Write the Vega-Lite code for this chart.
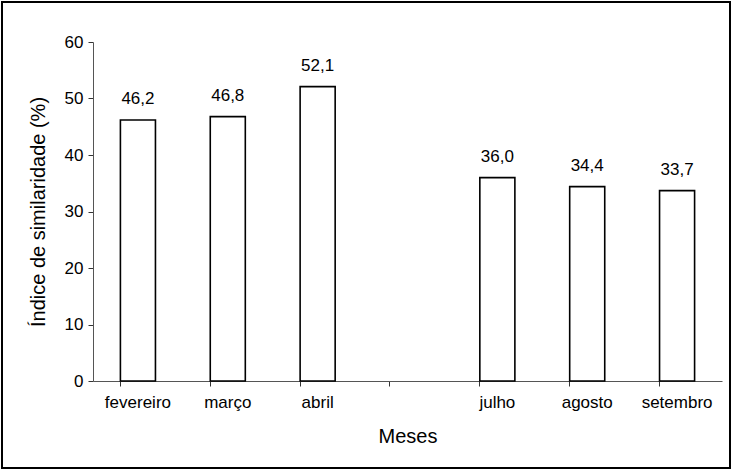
{
  "$schema": "https://vega.github.io/schema/vega-lite/v6.json",
  "width": 728,
  "height": 466,
  "padding": 2,
  "autosize": {"type": "none"},
  "background": "white",
  "config": {
    "view": {"stroke": "black", "strokeWidth": 2},
    "font": "Liberation Sans",
    "locale": {"number": {"decimal": ",", "thousands": ".", "grouping": [3], "currency": ["R$", ""]}},
    "axis": {"labelFont": "Liberation Sans", "titleFont": "Liberation Sans", "labelColor": "black", "titleColor": "black", "titleFontWeight": "normal", "grid": false}
  },
  "data": {"values": [
    {"mes": "fevereiro", "valor": 46.2},
    {"mes": "março", "valor": 46.8},
    {"mes": "abril", "valor": 52.1},
    {"mes": " ", "valor": null},
    {"mes": "julho", "valor": 36.0},
    {"mes": "agosto", "valor": 34.4},
    {"mes": "setembro", "valor": 33.7}
  ]},
  "encoding": {
    "x": {
      "field": "mes", "type": "nominal",
      "scale": {"domain": ["fevereiro", "março", "abril", " ", "julho", "agosto", "setembro"], "range": [91, 720], "paddingInner": 0.61, "paddingOuter": 0.305},
      "axis": {"title": "Meses", "titleFontSize": 20, "titlePadding": 16, "labelFontSize": 17, "labelAngle": 0, "labelPadding": 8, "tickSize": 5, "tickColor": "#333", "domainColor": "#555", "bandPosition": 0, "offset": -87}
    },
    "y": {
      "field": "valor", "type": "quantitative",
      "scale": {"domain": [0, 60], "range": [379, 40], "nice": false, "zero": true},
      "axis": {"title": "Índice de similaridade (%)", "titleFontSize": 20, "titlePadding": 16, "labelFontSize": 17, "values": [0, 10, 20, 30, 40, 50, 60], "format": "d", "tickSize": 5, "labelPadding": 5, "tickColor": "#333", "domainColor": "#555", "offset": -91}
    }
  },
  "layer": [
    {"mark": {"type": "bar", "fill": "white", "stroke": "black", "strokeWidth": 1.6}},
    {"mark": {"type": "text", "baseline": "bottom", "align": "center", "dy": -12, "fontSize": 17, "color": "black"},
     "encoding": {"text": {"field": "valor", "type": "quantitative", "format": ".1f"}}}
  ]
}
